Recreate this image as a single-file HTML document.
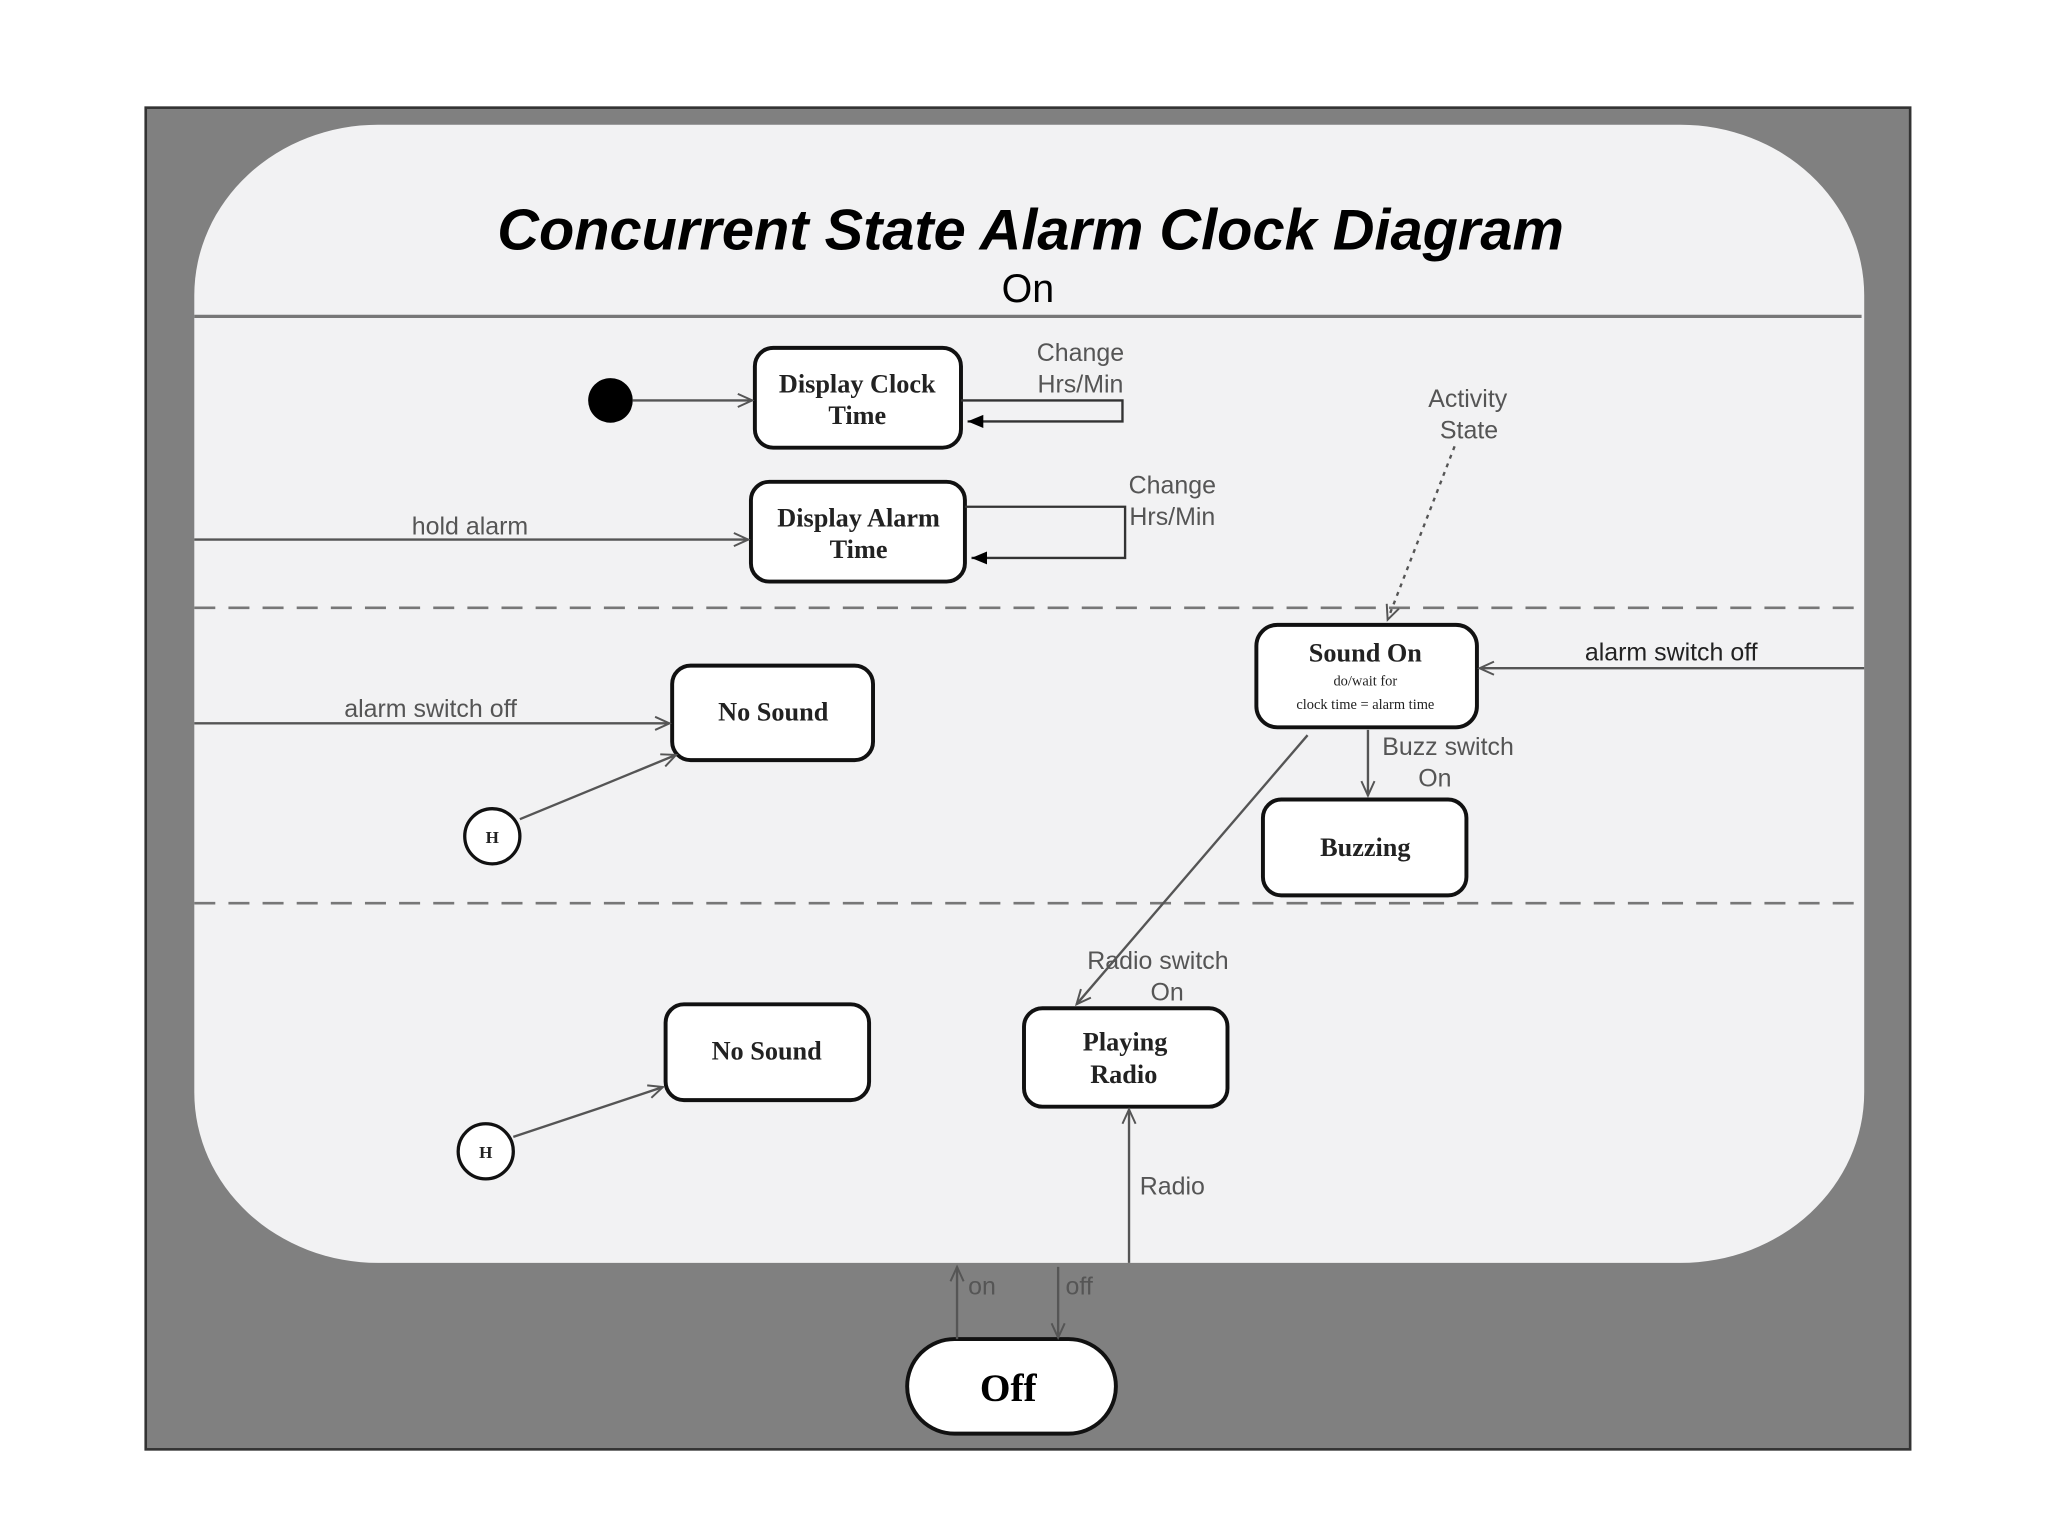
<!DOCTYPE html>
<html><head><meta charset="utf-8"><style>html,body{margin:0;padding:0;background:#fff}svg{display:block}</style></head><body>
<svg width="2048" height="1536" viewBox="0 0 1560 1170" preserveAspectRatio="none" xmlns="http://www.w3.org/2000/svg">
<defs>
<marker id="oa" markerWidth="14" markerHeight="12" refX="12" refY="6" orient="auto" markerUnits="userSpaceOnUse"><path d="M1,1 L12,6 L1,11" fill="none" stroke="#555" stroke-width="1.5"/></marker>
<marker id="fa" markerWidth="14" markerHeight="12" refX="12" refY="6" orient="auto" markerUnits="userSpaceOnUse"><path d="M0,1 L12,6 L0,11 Z" fill="#000"/></marker>
</defs>
<rect x="0" y="0" width="1560" height="1170" fill="#fff"/>
<rect x="111" y="82" width="1344" height="1022" fill="#808080" stroke="#333" stroke-width="2"/>
<rect x="148" y="95" width="1272" height="867" rx="140" ry="130" fill="#f2f2f3"/>
<g font-family="Liberation Sans, sans-serif">
<text x="785" y="190" text-anchor="middle" font-size="44" font-style="italic" font-weight="bold" fill="#000">Concurrent State Alarm Clock Diagram</text>
<text x="783" y="230" text-anchor="middle" font-size="30" fill="#000">On</text>
</g>
<line x1="148" y1="241" x2="1418" y2="241" stroke="#777" stroke-width="2.5"/>
<line x1="148" y1="463" x2="1418" y2="463" stroke="#777" stroke-width="2" stroke-dasharray="16,10"/>
<line x1="148" y1="688" x2="1418" y2="688" stroke="#777" stroke-width="2" stroke-dasharray="16,10"/>
<g stroke="#111" stroke-width="3" fill="#fff">
<rect x="575" y="265" width="157" height="76" rx="14"/>
<rect x="572" y="367" width="163" height="76" rx="14"/>
<rect x="957" y="476" width="168" height="78" rx="16"/>
<rect x="962" y="609" width="155" height="73" rx="14"/>
<rect x="512" y="507" width="153" height="72" rx="14"/>
<rect x="507" y="765" width="155" height="73" rx="14"/>
<rect x="780" y="768" width="155" height="75" rx="14"/>
<rect x="691" y="1020" width="159" height="72" rx="36"/>
<circle cx="375" cy="637" r="21" stroke-width="2.5"/>
<circle cx="370" cy="877" r="21" stroke-width="2.5"/>
</g>
<circle cx="465" cy="305" r="17" fill="#000"/>
<g stroke="#555" stroke-width="1.8" fill="none">
<line x1="482" y1="305" x2="573" y2="305" marker-end="url(#oa)"/>
<polyline points="732,305 855,305 855,321 737,321" marker-end="url(#fa)" stroke="#333"/>
<polyline points="735,386 857,386 857,425 740,425" marker-end="url(#fa)" stroke="#333"/>
<line x1="148" y1="411" x2="570" y2="411" marker-end="url(#oa)"/>
<line x1="1108" y1="340" x2="1057" y2="472" stroke-dasharray="3,4" marker-end="url(#oa)"/>
<line x1="1420" y1="509" x2="1127" y2="509" marker-end="url(#oa)"/>
<line x1="1042" y1="556" x2="1042" y2="606" marker-end="url(#oa)"/>
<line x1="996" y1="560" x2="820" y2="765" marker-end="url(#oa)"/>
<line x1="148" y1="551" x2="510" y2="551" marker-end="url(#oa)"/>
<line x1="396" y1="624" x2="515" y2="575" marker-end="url(#oa)"/>
<line x1="391" y1="866" x2="505" y2="828" marker-end="url(#oa)"/>
<line x1="860" y1="962" x2="860" y2="845" marker-end="url(#oa)"/>
<line x1="729" y1="1020" x2="729" y2="965" marker-end="url(#oa)"/>
<line x1="806" y1="965" x2="806" y2="1019" marker-end="url(#oa)"/>
</g>
<g font-family="Liberation Sans, sans-serif" font-size="19" fill="#555" text-anchor="middle">
<text x="823" y="275">Change</text><text x="823" y="299">Hrs/Min</text>
<text x="893" y="376">Change</text><text x="893" y="400">Hrs/Min</text>
<text x="358" y="407">hold alarm</text>
<text x="1118" y="310">Activity</text><text x="1119" y="334">State</text>
<text x="1273" y="503" fill="#222">alarm switch off</text>
<text x="1103" y="575">Buzz switch</text><text x="1093" y="599">On</text>
<text x="328" y="546">alarm switch off</text>
<text x="882" y="738">Radio switch</text><text x="889" y="762">On</text>
<text x="893" y="910">Radio</text>
<text x="748" y="986">on</text><text x="822" y="986">off</text>
</g>
<g font-family="Liberation Serif, serif" font-weight="bold" fill="#222" text-anchor="middle">
<text x="653" y="299" font-size="20">Display Clock</text><text x="653" y="323" font-size="20">Time</text>
<text x="654" y="401" font-size="20">Display Alarm</text><text x="654" y="425" font-size="20">Time</text>
<text x="1040" y="504" font-size="20">Sound On</text>
<text x="1040" y="522" font-size="11" font-weight="normal">do/wait for</text>
<text x="1040" y="540" font-size="11" font-weight="normal">clock time = alarm time</text>
<text x="1040" y="652" font-size="20">Buzzing</text>
<text x="589" y="549" font-size="20">No Sound</text>
<text x="584" y="807" font-size="20">No Sound</text>
<text x="857" y="800" font-size="20">Playing</text><text x="856" y="825" font-size="20">Radio</text>
<text x="768" y="1067" font-size="30" fill="#000">Off</text>
<text x="375" y="642" font-size="13">H</text>
<text x="370" y="882" font-size="13">H</text>
</g>
</svg>
</body></html>
